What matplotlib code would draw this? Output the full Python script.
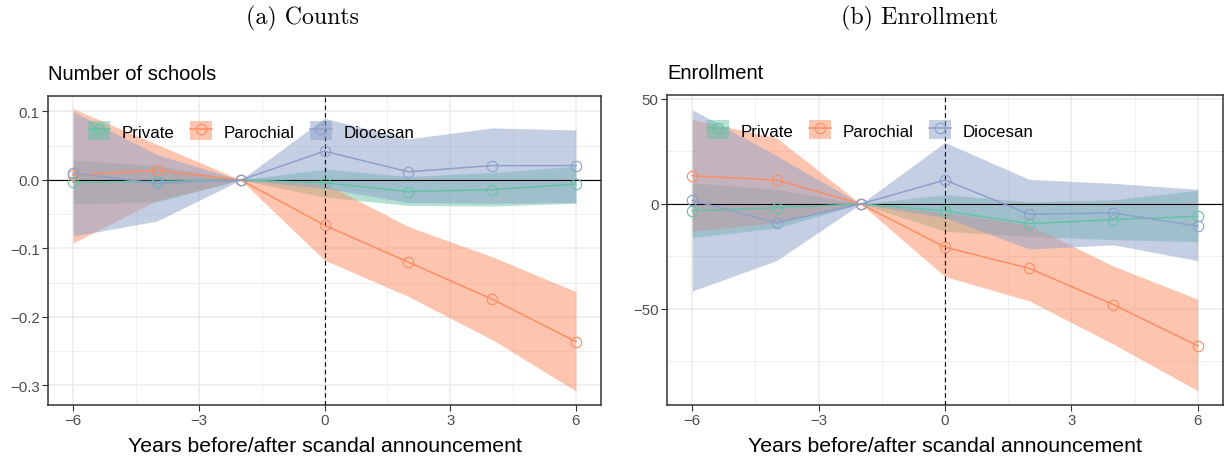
import numpy as np
import matplotlib.pyplot as plt
from matplotlib.patches import Patch
from matplotlib.lines import Line2D
from matplotlib.ticker import MultipleLocator

# event-study estimates
years = [-6, -4, -2, 0, 2, 4, 6]
groups = ['Private', 'Parochial', 'Diocesan']
colors = ['#66C2A5', '#FC8D62', '#8DA0CB']

# (a) counts
priv_cnt = [-0.003, -0.002, 0, -0.004, -0.017, -0.014, -0.006]
priv_cnt_lo = [-0.035, -0.032, 0, -0.025, -0.037, -0.038, -0.034]
priv_cnt_hi = [0.029, 0.021, 0, 0.016, 0.005, 0.011, 0.020]
paro_cnt = [0.007, 0.014, 0, -0.066, -0.120, -0.174, -0.236]
paro_cnt_lo = [-0.092, -0.030, 0, -0.117, -0.170, -0.233, -0.308]
paro_cnt_hi = [0.104, 0.052, 0, -0.005, -0.068, -0.112, -0.163]
dioc_cnt = [0.010, -0.005, 0, 0.042, 0.012, 0.021, 0.021]
dioc_cnt_lo = [-0.082, -0.060, 0, -0.012, -0.033, -0.034, -0.033]
dioc_cnt_hi = [0.100, 0.037, 0, 0.090, 0.060, 0.076, 0.073]

# (b) enrollment
priv_enr = [-3.2, -1.8, 0, -3.3, -9.4, -7.5, -5.9]
priv_enr_lo = [-16, -11.5, 0, -13, -15.5, -17, -18]
priv_enr_hi = [10, 7, 0, 4.4, 1, 2, 6.5]
paro_enr = [13.4, 11.4, 0, -20.6, -30.7, -48, -67.6]
paro_enr_lo = [-13, -9, 0, -34.6, -46.2, -66.8, -89]
paro_enr_hi = [40.2, 31.5, 0, -4, -10, -29.6, -45.4]
dioc_enr = [1.7, -9, 0, 11.4, -4.9, -4.3, -10.6]
dioc_enr_lo = [-41.5, -27, 0, -6.5, -21.5, -19.5, -27]
dioc_enr_hi = [44.9, 23, 0, 29.3, 11.7, 9.8, 7]

plt.rcParams['font.family'] = ['Liberation Sans', 'DejaVu Sans']

W, H = 1225, 460
fig = plt.figure(figsize=(W / 100, H / 100), dpi=100)


def px_axes(x0, y0, x1, y1):
    return fig.add_axes([x0 / W, 1 - y1 / H, (x1 - x0) / W, (y1 - y0) / H])


def panel(ax, series, ylim, major, minor, subtitle):
    for (est, lo, hi), c in zip(series, colors):
        ax.fill_between(years, lo, hi, color=c, alpha=0.5, lw=0, zorder=2)
    ax.axhline(0, color='black', lw=0.8, zorder=3)
    ax.axvline(0, color='black', lw=0.8, ls=(0, (4, 3)), zorder=3)
    for (est, lo, hi), c in zip(series, colors):
        ax.plot(years, est, color=c, lw=1.1, marker='o', ms=7.5,
                mfc='none', mew=0.8, zorder=4)
    ax.set_xlim(-6.6, 6.6)
    ax.set_ylim(*ylim)
    ax.xaxis.set_major_locator(MultipleLocator(3))
    ax.xaxis.set_minor_locator(MultipleLocator(1.5))
    ax.yaxis.set_major_locator(MultipleLocator(major))
    ax.yaxis.set_minor_locator(MultipleLocator(minor))
    ax.grid(which='major', color='#EBEBEB', lw=1.1, zorder=0)
    ax.grid(which='minor', color='#EBEBEB', lw=0.55, zorder=0)
    ax.set_axisbelow(True)
    ax.tick_params(which='major', length=4, width=0.8, color='#333333',
                   labelcolor='#4D4D4D', labelsize=10.8, pad=2)
    ax.tick_params(which='minor', length=0)
    for s in ax.spines.values():
        s.set_color('#333333')
        s.set_linewidth(1.1)
    ax.set_xlabel('Years before/after scandal announcement', fontsize=15.3,
                  labelpad=6)
    ax.set_title(subtitle, loc='left', fontsize=14.5, pad=12)
    handles = [(Patch(facecolor=c, alpha=0.5, lw=0),
                Line2D([], [], color=c, lw=1.1, marker='o', ms=7.5,
                       mfc='none', mew=0.8)) for c in colors]
    ax.legend(handles, groups, loc='upper left', bbox_to_anchor=(0.072, 0.918),
              ncol=3, frameon=False, fontsize=12.2, handlelength=1.3,
              handleheight=1.35, handletextpad=0.7, columnspacing=0.9,
              borderpad=0, borderaxespad=0)


ax1 = px_axes(48, 97, 601, 406)
panel(ax1, [(priv_cnt, priv_cnt_lo, priv_cnt_hi),
            (paro_cnt, paro_cnt_lo, paro_cnt_hi),
            (dioc_cnt, dioc_cnt_lo, dioc_cnt_hi)],
      (-0.3285, 0.1226), 0.1, 0.05, 'Number of schools')

ax2 = px_axes(667, 96, 1223, 406)
panel(ax2, [(priv_enr, priv_enr_lo, priv_enr_hi),
            (paro_enr, paro_enr_lo, paro_enr_hi),
            (dioc_enr, dioc_enr_lo, dioc_enr_hi)],
      (-95.8, 51.9), 50, 25, 'Enrollment')

fig.text(302 / W, 1 - 18 / H, '(a) Counts', family='cmr10', fontsize=17.2,
         ha='center', va='center')
fig.text(920 / W, 1 - 18 / H, '(b) Enrollment', family='cmr10', fontsize=17.2,
         ha='center', va='center')

fig.savefig('out.png', dpi=100)
